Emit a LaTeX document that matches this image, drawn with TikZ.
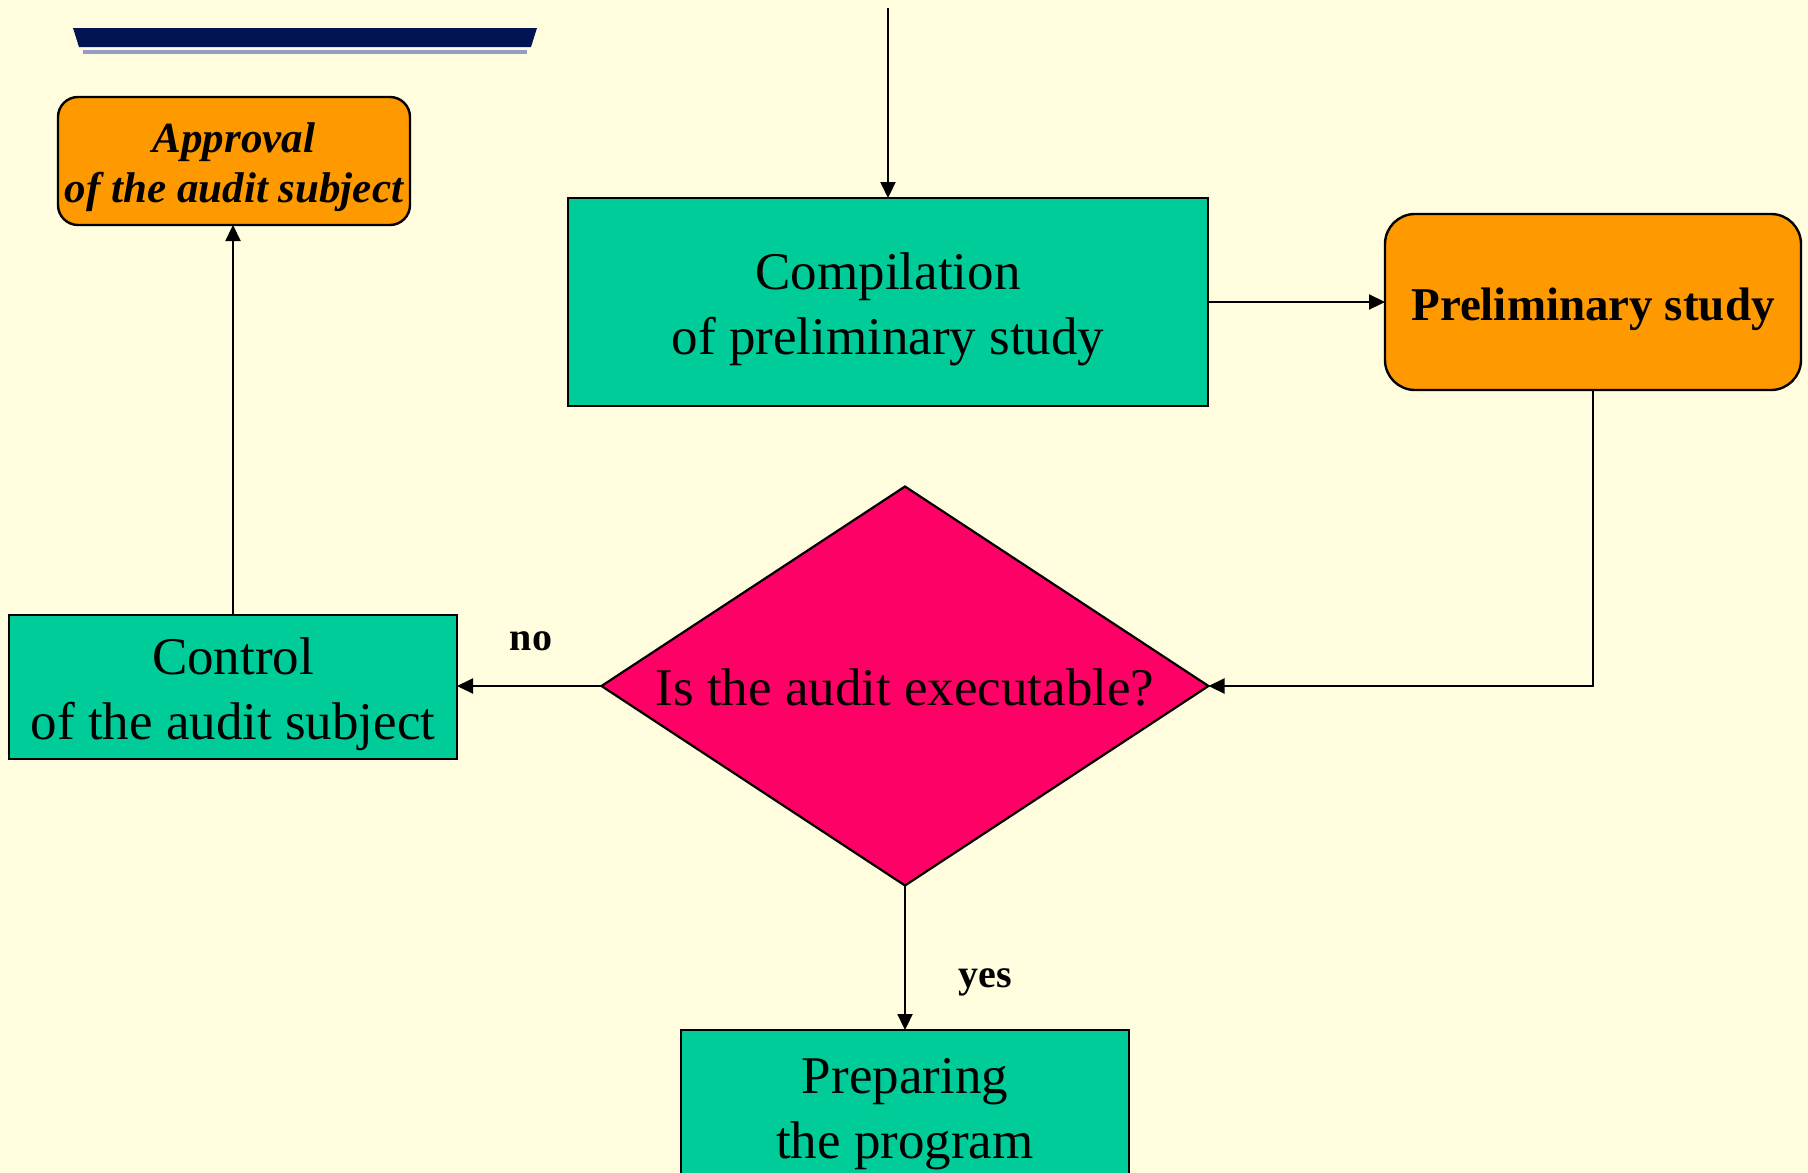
\documentclass[tikz,border=0pt]{standalone}
\usepackage{fontspec}
\setmainfont{Liberation Serif}
\usetikzlibrary{shapes.geometric,arrows.meta}
\definecolor{paper}{RGB}{255,253,222}
\definecolor{boxgreen}{RGB}{0,204,153}
\definecolor{boxorange}{RGB}{255,153,0}
\definecolor{boxpink}{RGB}{255,0,102}
\definecolor{barnavy}{RGB}{3,20,85}
\definecolor{barshade}{RGB}{150,156,200}
% invisible strut that sets the height of a first line of text
\newcommand\toppad[1]{\rule{0pt}{#1}}
\begin{document}
\begin{tikzpicture}[x=1pt,y=-1pt,
  every node/.style={inner sep=0pt, outer sep=0pt, align=center},
  procbox/.style={draw=black, line width=2.4pt, fill=boxgreen,
    font=\fontsize{53}{65}\selectfont},
  keybox/.style={draw=black, line width=2.4pt, fill=boxorange},
  decision/.style={diamond, aspect=1.52, draw=black, line width=2.2pt,
    fill=boxpink, font=\fontsize{53}{65}\selectfont},
  flow/.style={line width=2.2pt, -{Triangle[length=16pt,width=15pt]}},
  answer/.style={font=\fontsize{40}{48}\selectfont\bfseries}]
  % page
  \useasboundingbox (0,0) rectangle (1808,1173);
  \fill[paper] (0,0) rectangle (1808,1173);
  \clip (0,0) rectangle (1808,1173);
  % heading bar
  \fill[barnavy] (73,28) -- (537,28) -- (531,47) -- (79,47) -- cycle;
  \fill[barshade] (83,50) rectangle (527,54);

  % boxes
  \node[keybox, rounded corners=20pt, minimum width=352pt, minimum height=128pt,
        font=\fontsize{43}{50}\selectfont\bfseries\itshape]
        (approval) at (234,161) {\toppad{42pt}Approval\\of the audit subject};
  \node[procbox, minimum width=640pt, minimum height=208pt]
        (compile) at (888,302) {\toppad{50.5pt}Compilation\\of preliminary study};
  \node[keybox, rounded corners=30pt, minimum width=416pt, minimum height=176pt,
        font=\fontsize{47}{56}\selectfont\bfseries]
        (prelim) at (1593,302) {\toppad{48pt}Preliminary study};
  \node[decision, minimum width=607pt, minimum height=399pt]
        (check) at (905,686) {\toppad{40pt}Is the audit executable?};
  \node[procbox, minimum width=448pt, minimum height=144pt]
        (control) at (233,687) {\toppad{50.5pt}Control\\of the audit subject};
  \node[procbox, minimum width=448pt, minimum height=152pt, anchor=north]
        (prepare) at (905,1030) {\toppad{50.5pt}Preparing\\the program};

  % connectors
  \coordinate (entry) at (888,8);
  \draw[flow] (entry) -- (compile.north);
  \draw[flow] (compile.east) -- (prelim.west);
  \draw[flow] (prelim.south) |- (check.east);
  \draw[flow] (check.west) -- (check.west -| control.east);
  \draw[flow] (control.north) -- (control.north |- approval.south);
  \draw[flow] (check.south) -- (prepare.north);

  % branch labels
  \node[answer] (nolabel) at (531,641) {no};
  \node[answer] (yeslabel) at (985,982) {yes};
\end{tikzpicture}
\end{document}
